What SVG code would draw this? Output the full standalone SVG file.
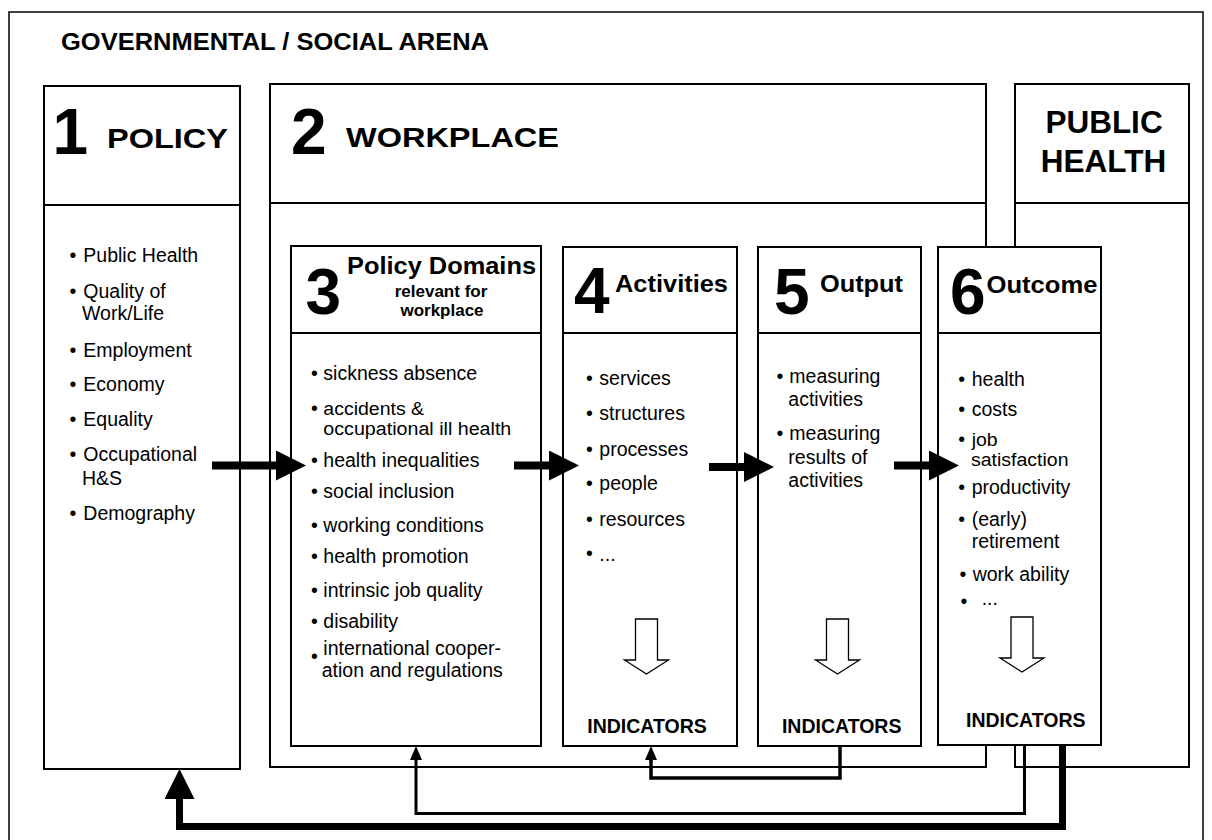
<svg xmlns="http://www.w3.org/2000/svg" xmlns:xlink="http://www.w3.org/1999/xlink" width="1212" height="840" viewBox="0 0 1212 840">
<style>
.t{font-family:"Liberation Sans",Arial,Helvetica,sans-serif;fill:#000}
.b{font-weight:bold}
.body{font-size:19.5px}
.tight{font-size:18px}
.num{font-size:64px;font-weight:bold}
.box{fill:#fff;stroke:#000;stroke-width:2}
.div{stroke:#000;stroke-width:2;fill:none}
.hollow{fill:#fff;stroke:#000;stroke-width:1.3}
.arrow{stroke:#000;stroke-width:8;fill:none}
.fb{fill:none;stroke:#000;stroke-linejoin:miter}
.ind{font-size:19.5px;font-weight:bold;text-anchor:middle}
</style>
<defs>
<marker id="bigHead" markerUnits="userSpaceOnUse" markerWidth="30" markerHeight="30" refX="0" refY="15" orient="auto" viewBox="0 0 30 30">
<path d="M0,0 L30,15 L0,30 Z" fill="#000"/>
</marker>
<marker id="smallHead" markerUnits="userSpaceOnUse" markerWidth="14" markerHeight="12" refX="0" refY="6" orient="auto" viewBox="0 0 14 12">
<path d="M0,0 L14,6 L0,12 Z" fill="#000"/>
</marker>
<path id="hollowArrow" d="M-11,0 H11 V41 H22 L0,55 L-22,41 H-11 Z"/>
</defs>
<rect width="1212" height="840" fill="#fff"/>

<g id="arena">
<rect x="9" y="12" width="1194" height="840" fill="#fff" stroke="#000" stroke-width="1.5"/>
<text class="t b" x="61" y="50" font-size="23" textLength="428" lengthAdjust="spacingAndGlyphs">GOVERNMENTAL / SOCIAL ARENA</text>
</g>

<g id="policy">
<rect class="box" x="44" y="86" width="196" height="683"/>
<line class="div" x1="44" y1="205" x2="240" y2="205"/>
<text class="t num" x="52.5" y="154">1</text>
<text class="t b" x="107" y="148" font-size="28.5" textLength="121" lengthAdjust="spacingAndGlyphs">POLICY</text>
<g class="t body">
<text y="261.7"><tspan x="69.4">•</tspan><tspan x="83.3">Public Health</tspan></text>
<text y="298.3"><tspan x="69.4">•</tspan><tspan x="83.3">Quality of</tspan><tspan x="82" y="320">Work/Life</tspan></text>
<text y="356.5"><tspan x="69.4">•</tspan><tspan x="83.3">Employment</tspan></text>
<text y="391"><tspan x="69.4">•</tspan><tspan x="83.3">Economy</tspan></text>
<text y="425.5"><tspan x="69.4">•</tspan><tspan x="83.3">Equality</tspan></text>
<text y="460.7"><tspan x="69.4">•</tspan><tspan x="83.3">Occupational</tspan><tspan x="82" y="485">H&amp;S</tspan></text>
<text y="520"><tspan x="69.4">•</tspan><tspan x="83.3">Demography</tspan></text>
</g>
</g>

<g id="workplace">
<rect class="box" x="270" y="84" width="716" height="683"/>
<line class="div" x1="270" y1="203" x2="986" y2="203"/>
<text class="t num" x="291" y="154">2</text>
<text class="t b" x="346" y="147" font-size="27" textLength="213" lengthAdjust="spacingAndGlyphs">WORKPLACE</text>
</g>

<g id="public-health">
<rect class="box" x="1015" y="84" width="174" height="683"/>
<line class="div" x1="1015" y1="203" x2="1189" y2="203"/>
<text class="t b" font-size="31.5" text-anchor="middle"><tspan x="1104" y="133">PUBLIC</tspan><tspan x="1103.5" y="172">HEALTH</tspan></text>
</g>

<g id="box3-policy-domains">
<rect class="box" x="291" y="246" width="250" height="500"/>
<line class="div" x1="291" y1="333" x2="541" y2="333"/>
<text class="t num" x="305.5" y="314">3</text>
<text class="t b" x="347" y="274" font-size="24.5" textLength="189" lengthAdjust="spacingAndGlyphs">Policy Domains</text>
<text class="t b" font-size="17" text-anchor="middle"><tspan x="441" y="297">relevant for</tspan><tspan x="442" y="316">workplace</tspan></text>
<g class="t body">
<text y="380"><tspan x="310.9">•</tspan><tspan x="323.3">sickness absence</tspan></text>
<text y="414.5"><tspan x="310.9">•</tspan><tspan x="323.3" class="tight" textLength="100.8" lengthAdjust="spacingAndGlyphs">accidents &amp;</tspan></text>
<text x="323.3" y="435" class="tight" textLength="188" lengthAdjust="spacingAndGlyphs">occupational ill health</text>
<text y="466.7"><tspan x="310.9">•</tspan><tspan x="323.3">health inequalities</tspan></text>
<text y="498.3"><tspan x="310.9">•</tspan><tspan x="323.3">social inclusion</tspan></text>
<text y="531.7"><tspan x="310.9">•</tspan><tspan x="323.3">working conditions</tspan></text>
<text y="563.3"><tspan x="310.9">•</tspan><tspan x="323.3">health promotion</tspan></text>
<text y="596.7"><tspan x="310.9">•</tspan><tspan x="323.3">intrinsic job quality</tspan></text>
<text y="628.3"><tspan x="310.9">•</tspan><tspan x="323.3">disability</tspan></text>
<text><tspan x="310.9" y="663.4">•</tspan><tspan x="323.3" y="655">international cooper-</tspan><tspan x="321.7" y="677.3">ation and regulations</tspan></text>
</g>
</g>

<g id="box4-activities">
<rect class="box" x="563" y="247" width="174" height="499"/>
<line class="div" x1="563" y1="333" x2="737" y2="333"/>
<text class="t num" x="574" y="313">4</text>
<text class="t b" x="615" y="292" font-size="24" textLength="113" lengthAdjust="spacingAndGlyphs">Activities</text>
<g class="t body">
<text y="385"><tspan x="586">•</tspan><tspan x="599.3">services</tspan></text>
<text y="420"><tspan x="586">•</tspan><tspan x="599.3">structures</tspan></text>
<text y="455.5"><tspan x="586">•</tspan><tspan x="599.3">processes</tspan></text>
<text y="490"><tspan x="586">•</tspan><tspan x="599.3">people</tspan></text>
<text y="525.7"><tspan x="586">•</tspan><tspan x="599.3">resources</tspan></text>
<text><tspan x="586" y="559.7">•</tspan><tspan x="599.3" y="561">...</tspan></text>
</g>
<use xlink:href="#hollowArrow" class="hollow" transform="translate(646.5,619)"/>
<text class="t ind" x="647" y="733">INDICATORS</text>
</g>

<g id="box5-output">
<rect class="box" x="758" y="247" width="163" height="499"/>
<line class="div" x1="758" y1="333" x2="921" y2="333"/>
<text class="t num" x="774" y="314">5</text>
<text class="t b" x="820" y="292" font-size="24" textLength="83" lengthAdjust="spacingAndGlyphs">Output</text>
<g class="t body">
<text y="383.3"><tspan x="776.6">•</tspan><tspan x="789.3">measuring</tspan><tspan x="788.3" y="405.7">activities</tspan></text>
<text y="440"><tspan x="776.6">•</tspan><tspan x="789.3">measuring</tspan><tspan x="788.3" y="464">results of</tspan><tspan x="788.3" y="487.3">activities</tspan></text>
</g>
<use xlink:href="#hollowArrow" class="hollow" transform="translate(837.5,619)"/>
<text class="t ind" x="841.7" y="733">INDICATORS</text>
</g>

<g id="box6-outcome">
<rect class="box" x="938" y="247" width="163" height="498"/>
<line class="div" x1="938" y1="333" x2="1101" y2="333"/>
<text class="t num" x="950" y="314">6</text>
<text class="t b" x="986.5" y="293" font-size="24" textLength="111" lengthAdjust="spacingAndGlyphs">Outcome</text>
<g class="t body">
<text y="385.7"><tspan x="958.3">•</tspan><tspan x="971.7">health</tspan></text>
<text y="415.7"><tspan x="958.3">•</tspan><tspan x="971.7">costs</tspan></text>
<text y="445.5"><tspan x="958.3">•</tspan><tspan x="971.7" class="tight" textLength="26" lengthAdjust="spacingAndGlyphs">job</tspan></text>
<text x="971" y="466" class="tight" textLength="97.5" lengthAdjust="spacingAndGlyphs">satisfaction</text>
<text y="494"><tspan x="958.3">•</tspan><tspan x="971.7">productivity</tspan></text>
<text y="525.7"><tspan x="958.3">•</tspan><tspan x="971.7">(early)</tspan><tspan x="971.7" y="548.3">retirement</tspan></text>
<text y="580.7"><tspan x="959.6">•</tspan><tspan x="972.7">work ability</tspan></text>
<text><tspan x="960.6" y="608.4">•</tspan><tspan x="981.7" y="605">...</tspan></text>
</g>
<use xlink:href="#hollowArrow" class="hollow" transform="translate(1022,617)"/>
<text class="t ind" x="1025.8" y="727">INDICATORS</text>
</g>

<g id="connectors">
<line class="arrow" x1="212" y1="465.5" x2="276" y2="465.5" marker-end="url(#bigHead)"/>
<line class="arrow" x1="514" y1="465.5" x2="549" y2="465.5" marker-end="url(#bigHead)"/>
<line class="arrow" x1="709" y1="467" x2="744" y2="467" marker-end="url(#bigHead)"/>
<line class="arrow" x1="894" y1="465.5" x2="929" y2="465.5" marker-end="url(#bigHead)"/>
<path class="fb" stroke-width="3.5" d="M840,745 V778 H651 V760" marker-end="url(#smallHead)"/>
<path class="fb" stroke-width="3" d="M1024.5,745 V813.5 H416 V760" marker-end="url(#smallHead)"/>
<path class="fb" stroke-width="7" d="M1062.5,745 V826.5 H179.5 V799" marker-end="url(#bigHead)"/>
</g>
</svg>
